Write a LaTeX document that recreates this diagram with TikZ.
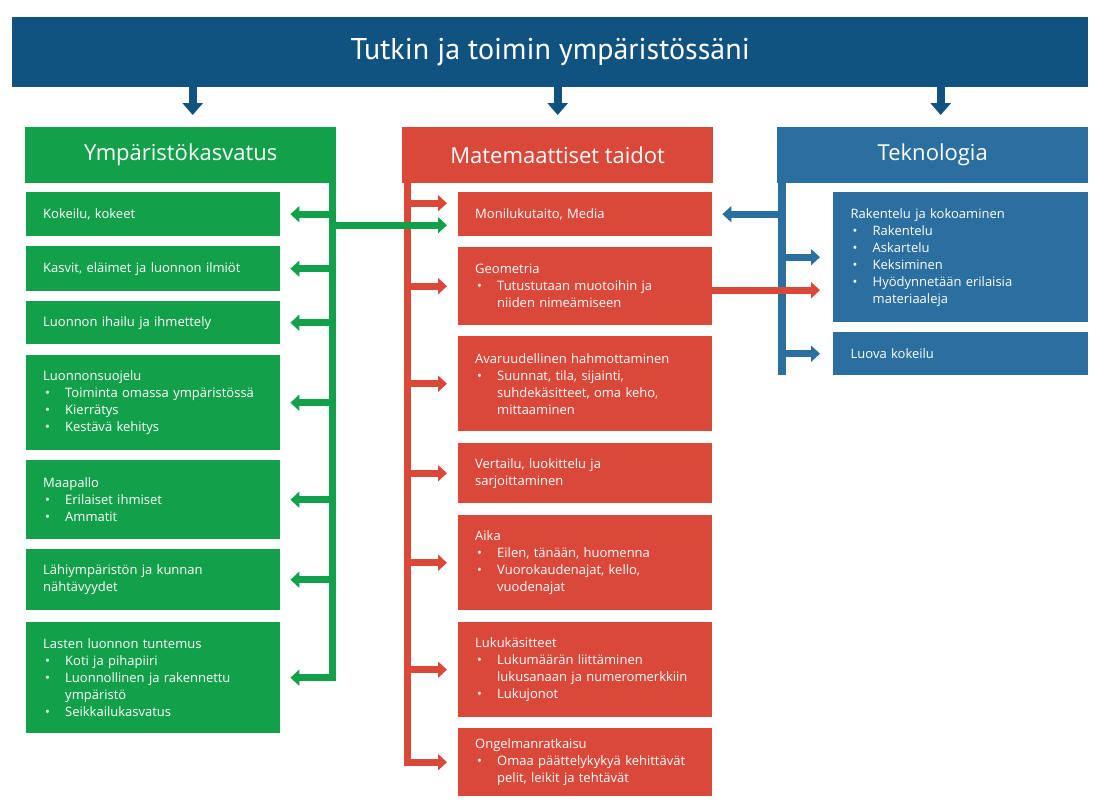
\documentclass[tikz,border=0pt]{standalone}
\usepackage{fontspec}
\setmainfont{Open Sans}
\newfontfamily\titlefont{PT Sans}
\usepackage{tikz}
\usetikzlibrary{arrows.meta,positioning}
\definecolor{banner}{HTML}{105380}
\definecolor{grn}{HTML}{13A04B}
\definecolor{rd}{HTML}{DA483A}
\definecolor{tek}{HTML}{2A6F9F}
\newcommand{\itm}[1]{\par\noindent\makebox[22pt][l]{\hspace{2pt}\textbullet}#1}
\newcommand{\cnt}[1]{\par\noindent\hspace*{22pt}#1}

\begin{document}
\begin{tikzpicture}[
  x=1pt,y=-1pt,
  itembox/.style={anchor=north west,text=white,minimum width=254pt,text width=236pt,
   inner xsep=9pt,inner ysep=0pt,align=left,execute at begin node={\leftskip=8pt},
   font=\fontsize{13}{17}\selectfont},
  gbox/.style={itembox,fill=grn},
  rbox/.style={itembox,fill=rd},
  tbox/.style={itembox,fill=tek,minimum width=255pt},
  headbox/.style={anchor=north west,text=white,minimum width=311pt,minimum height=56pt,
   inner sep=0pt,font=\fontsize{22}{26}\selectfont},
  arr/.style={line width=7pt,-{Triangle[length=9pt,width=16pt]}},
  garr/.style={arr,grn},
  rarr/.style={arr,rd},
  tarr/.style={arr,tek},
  barr/.style={line width=8pt,banner,-{Triangle[length=12pt,width=20pt]}}
  ]
  \useasboundingbox (0,0) rectangle (1094,809);

  \node[fill=banner,text=white,anchor=north west,minimum width=1076pt,minimum height=70pt,
   inner sep=0pt,font=\titlefont\fontsize{30}{34}\selectfont] (title) at (12,17) {Tutkin ja toimin ympäristössäni};

  \node[headbox,fill=grn] (gh) at (25,127) {Ympäristökasvatus};
  \node[headbox,fill=rd] (rh) at (402,127) {Matemaattiset taidot};
  \node[headbox,fill=tek] (th) at (777,127) {Teknologia};

  \draw[barr] ([xshift=12pt]title.south -| gh.north) -- ([xshift=12pt,yshift=12pt]gh.north);
  \draw[barr] (title.south -| rh.north) -- ([yshift=12pt]rh.north);
  \draw[barr] ([xshift=8pt]title.south -| th.north) -- ([xshift=8pt,yshift=12pt]th.north);

  \node[gbox,minimum height=44pt] (g1) at (26,192) {Kokeilu, kokeet};
  \node[gbox,minimum height=45pt] (g2) at (26,246) {Kasvit, eläimet ja luonnon ilmiöt};
  \node[gbox,minimum height=43pt] (g3) at (26,301) {Luonnon ihailu ja ihmettely};
  \node[gbox,minimum height=95pt] (g4) at (26,355) {Luonnonsuojelu
   \itm{Toiminta omassa ympäristössä}
   \itm{Kierrätys}
   \itm{Kestävä kehitys}};
  \node[gbox,minimum height=79pt] (g5) at (26,460) {Maapallo
   \itm{Erilaiset ihmiset}
   \itm{Ammatit}};
  \node[gbox,minimum height=61pt] (g6) at (26,549) {Lähiympäristön ja kunnan\\nähtävyydet};
  \node[gbox,minimum height=111pt] (g7) at (26,622) {Lasten luonnon tuntemus
   \itm{Koti ja pihapiiri}
   \itm{Luonnollinen ja rakennettu}\cnt{ympäristö}
   \itm{Seikkailukasvatus}};

  \node[rbox,minimum height=44pt] (r1) at (458,192) {Monilukutaito, Media};
  \node[rbox,minimum height=78pt] (r2) at (458,247) {Geometria
   \itm{Tutustutaan muotoihin ja}\cnt{niiden nimeämiseen}};
  \node[rbox,minimum height=95pt] (r3) at (458,336) {Avaruudellinen hahmottaminen
   \itm{Suunnat, tila, sijainti,}\cnt{suhdekäsitteet, oma keho,}\cnt{mittaaminen}};
  \node[rbox,minimum height=60pt] (r4) at (458,443) {Vertailu, luokittelu ja\\sarjoittaminen};
  \node[rbox,minimum height=95pt] (r5) at (458,515) {Aika
   \itm{Eilen, tänään, huomenna}
   \itm{Vuorokaudenajat, kello,}\cnt{vuodenajat}};
  \node[rbox,minimum height=95pt] (r6) at (458,622) {Lukukäsitteet
   \itm{Lukumäärän liittäminen}\cnt{lukusanaan ja numeromerkkiin}
   \itm{Lukujonot}};
  \node[rbox,minimum height=68pt] (r7) at (458,728) {Ongelmanratkaisu
   \itm{Omaa päättelykykyä kehittävät}\cnt{pelit, leikit ja tehtävät}};

  \node[tbox,minimum height=130pt] (t1) at (833,192) {Rakentelu ja kokoaminen
   \itm{Rakentelu}
   \itm{Askartelu}
   \itm{Keksiminen}
   \itm{Hyödynnetään erilaisia}\cnt{materiaaleja}};
  \node[tbox,minimum height=43pt] (t2) at (833,332) {Luova kokeilu};

  \coordinate (gs) at ([xshift=-4pt]gh.south east);
  \coordinate (rs) at ([xshift=5pt]rh.south west);
  \coordinate (ts) at ([xshift=5pt]th.south west);

  \draw[tek,line width=8pt] ([yshift=2pt]ts) -- (ts |- t2.south);
  \draw[tarr] (ts |- r1.east) -- ([xshift=10pt]r1.east);
  \draw[tarr] (ts |- t1.west) -- ([xshift=-13pt]t1.west);
  \draw[tarr] (ts |- t2.west) -- ([xshift=-13pt]t2.west);

  \draw[rarr] ([yshift=2pt]rs) |- ([xshift=-11pt]r7.west);
  \draw[rarr] ([yshift=11pt]rs |- r1.west) -- ([xshift=-11pt,yshift=11pt]r1.west);
  \foreach \n in {r2,r3,r4,r5,r6}
   \draw[rarr] (rs |- \n.west) -- ([xshift=-11pt]\n.west);
  \draw[rarr] ([yshift=-4pt]r2.east) -- ([xshift=-13pt,yshift=-4pt]r2.east -| t1.west);

  \draw[garr] ([yshift=2pt]gs) |- ([xshift=10pt]g7.east);
  \foreach \n in {g1,g2,g3,g4,g5,g6}
   \draw[garr] (gs |- \n.east) -- ([xshift=10pt]\n.east);
  \draw[garr] ([yshift=-11pt]gs |- r1.west) -- ([xshift=-11pt,yshift=-11pt]r1.west);
\end{tikzpicture}
\end{document}
